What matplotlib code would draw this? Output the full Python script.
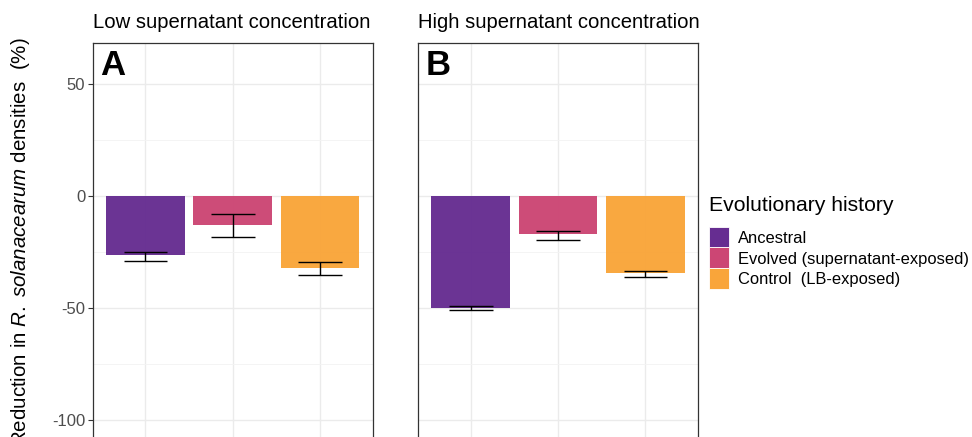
import matplotlib.pyplot as plt
from matplotlib.patches import Rectangle

plt.rcParams['font.family'] = ['Liberation Sans', 'DejaVu Sans']
plt.rcParams['mathtext.fontset'] = 'custom'
plt.rcParams['mathtext.rm'] = 'Liberation Sans'
plt.rcParams['mathtext.it'] = 'Liberation Sans:italic'
plt.rcParams['axes.unicode_minus'] = False

# data
groups = ['Ancestral', 'Evolved (supernatant-exposed)', 'Control  (LB-exposed)']
colors = ['#662D91', '#CC4674', '#F9A53A']
panels = ['Low supernatant concentration', 'High supernatant concentration']
panel_tags = ['A', 'B']
means = [[-26.5, -12.8, -32.0],
         [-49.8, -17.1, -34.5]]
err_low = [[-29.0, -18.4, -35.3],
           [-50.7, -19.5, -36.0]]
err_high = [[-25.1, -8.2, -29.3],
            [-49.1, -15.8, -33.3]]

W, H = 972, 437
fig = plt.figure(figsize=(W / 100, H / 100), dpi=100)

lefts = [93 / W, 418.3 / W]
width = 279.6 / W
bottom = 1 - 453.6 / H
height = (453.6 - 43) / H
x = [1, 2, 3]

for i in range(2):
    ax = fig.add_axes([lefts[i], bottom, width, height])
    ax.bar(x, means[i], width=0.9, color=colors, alpha=0.97, zorder=2)
    ax.vlines(x, err_low[i], err_high[i], color='black', lw=1, zorder=3)
    ax.hlines(err_low[i], [v - 0.25 for v in x], [v + 0.25 for v in x], color='black', lw=1, zorder=3)
    ax.hlines(err_high[i], [v - 0.25 for v in x], [v + 0.25 for v in x], color='black', lw=1, zorder=3)
    ax.set_xlim(0.4, 3.6)
    ax.set_ylim(-115, 68.3)
    ax.set_yticks([50, 0, -50, -100])
    ax.set_yticks([25, -25, -75], minor=True)
    ax.set_xticks(x)
    ax.grid(True, which='major', color='#EBEBEB', lw=1, zorder=0)
    ax.grid(True, which='minor', axis='y', color='#F3F3F3', lw=0.6, zorder=0)
    ax.set_axisbelow(True)
    ax.tick_params(axis='x', labelbottom=False, length=0)
    ax.tick_params(axis='y', which='minor', length=0)
    ax.tick_params(axis='y', which='major', length=3.5, color='#333333', width=0.8,
                   labelsize=12, labelcolor='#4D4D4D', pad=2)
    if i == 1:
        ax.tick_params(axis='y', labelleft=False, length=0)
    for s in ax.spines.values():
        s.set_color('#333333')
        s.set_linewidth(0.9)
    ax.text(0.025, 0.986, panel_tags[i], transform=ax.transAxes, fontsize=25,
            fontweight='bold', va='top', ha='left')
    fig.text(lefts[i], 1 - 28 / H, panels[i], fontsize=14.6, ha='left', va='baseline')

fig.text(21 / W, 1 - 242 / H, r'Reduction in $\it{R.\ solanacearum}$ densities  (%)',
         rotation=90, fontsize=14.8, ha='center', va='center')

# legend
fig.text(709 / W, 1 - 210.7 / H, 'Evolutionary history', fontsize=15.2, ha='left', va='baseline')
key_top = 226.7
key_h = 20.7
for k, (g, c) in enumerate(zip(groups, colors)):
    top = key_top + k * key_h
    fig.patches.append(Rectangle((709 / W, 1 - (top + key_h) / H), 20 / W, key_h / H,
                                 transform=fig.transFigure, facecolor=c, edgecolor='white', lw=0.6))
    fig.text(738 / W, 1 - (top + key_h / 2) / H, g, fontsize=11.9, ha='left', va='center_baseline')

fig.savefig('out.png', dpi=100)
